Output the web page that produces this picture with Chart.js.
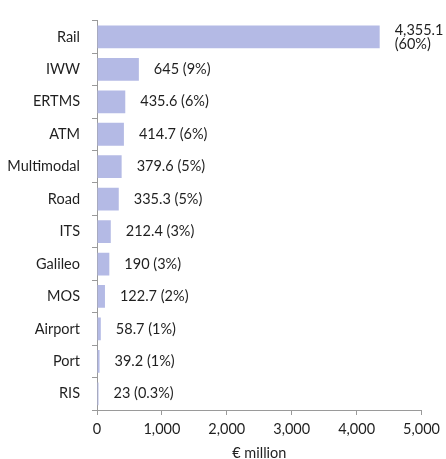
<!DOCTYPE html>
<html>
<head>
<meta charset="utf-8">
<script src="https://cdn.jsdelivr.net/npm/chart.js@4"></script>
<style>
  html, body { margin: 0; padding: 0; background: #fff; }
  #wrap { width: 446px; height: 459px; }
</style>
</head>
<body>
<div id="wrap"><canvas id="modeChart" width="446" height="459"></canvas></div>
<script>
const modes = ['Rail', 'IWW', 'ERTMS', 'ATM', 'Multimodal', 'Road', 'ITS', 'Galileo', 'MOS', 'Airport', 'Port', 'RIS'];
const amounts = [4355.1, 645, 435.6, 414.7, 379.6, 335.3, 212.4, 190, 122.7, 58.7, 39.2, 23];
const amountText = ['4,355.1', '645', '435.6', '414.7', '379.6', '335.3', '212.4', '190', '122.7', '58.7', '39.2', '23'];
const shares = ['60%', '9%', '6%', '6%', '5%', '5%', '3%', '3%', '2%', '1%', '1%', '0.3%'];
const xTicks = [0, 1000, 2000, 3000, 4000, 5000];

const FONT = 'Lato, "Open Sans", sans-serif';
Chart.defaults.font.family = FONT;
Chart.defaults.font.size = 14.5;
Chart.defaults.color = '#1f1f1f';

// value labels to the right of each bar, wrapped when there's no room
const barLabels = {
    id: 'barLabels',
    afterDatasetsDraw(chart) {
        const ctx = chart.ctx;
        const meta = chart.getDatasetMeta(0);
        ctx.save();
        ctx.font = '14.5px ' + FONT;
        ctx.fillStyle = '#1f1f1f';
        ctx.textBaseline = 'middle';
        ctx.textAlign = 'left';
        meta.data.forEach((bar, i) => {
            const x = bar.x + 15;
            const full = amountText[i] + ' (' + shares[i] + ')';
            if (x + ctx.measureText(full).width > chart.width) {
                ctx.fillText(amountText[i], x, bar.y - 7);
                ctx.fillText('(' + shares[i] + ')', x, bar.y + 7);
            } else {
                ctx.fillText(full, x, bar.y);
            }
        });
        ctx.restore();
    }
};

new Chart(document.getElementById('modeChart').getContext('2d'), {
    type: 'bar',
    data: {
        labels: modes,
        datasets: [{
            data: amounts,
            backgroundColor: '#b4bae5',
            barPercentage: 0.78,
            categoryPercentage: 0.9
        }]
    },
    options: {
        indexAxis: 'y',
        responsive: false,
        animation: false,
        layout: { padding: { top: 12, right: 20, left: 0, bottom: 0 } },
        plugins: { legend: { display: false }, tooltip: { enabled: false } },
        scales: {
            x: {
                min: 0,
                max: 5000,
                afterBuildTicks: axis => { axis.ticks = xTicks.map(v => ({ value: v })); },
                afterFit: axis => { axis.height = 49; },
                border: { color: '#9a9a9a' },
                grid: { drawOnChartArea: false, drawTicks: true, tickLength: 5, color: '#9a9a9a' },
                ticks: {
                    padding: 6,
                    callback: v => v.toLocaleString('en-US')
                },
                title: { display: true, text: '€ million', padding: { top: 0, bottom: -3 } }
            },
            y: {
                afterFit: axis => { axis.width = 97; },
                border: { color: '#9a9a9a' },
                grid: { drawOnChartArea: false, drawTicks: true, tickLength: 5, color: '#9a9a9a' },
                ticks: { padding: 12 }
            }
        }
    },
    plugins: [barLabels]
});
</script>
</body>
</html>
